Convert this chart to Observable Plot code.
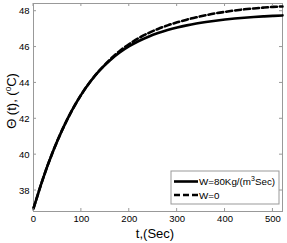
<!DOCTYPE html>
<html><head><meta charset="utf-8">
<script src="https://cdn.jsdelivr.net/npm/d3@7"></script>
<script src="https://cdn.jsdelivr.net/npm/@observablehq/plot@0.6"></script>
<style>body{margin:0;background:#fff}</style>
</head><body><div id="chart"></div>
<script>
const time = [0,20,40,60,80,100,120,140,160,180,200,220,240,260,280,300,320,340,360,380,400,420,440,460,480,500,520];
const thetaW80 = [37.0,38.68,40.13,41.38,42.45,43.36,44.12,44.75,45.27,45.7,46.05,46.34,46.58,46.78,46.95,47.09,47.21,47.31,47.395,47.47,47.535,47.59,47.635,47.675,47.71,47.74,47.765];
const thetaW0 = [37.0,38.68,40.13,41.38,42.45,43.36,44.12,44.76,45.31,45.78,46.17,46.5,46.78,47.01,47.21,47.38,47.53,47.66,47.775,47.88,47.965,48.04,48.105,48.155,48.2,48.24,48.265];
const xTicks = [0,100,200,300,400,500];
const yTicks = [38,40,42,44,46,48];

const rows = time.map((t,i)=>({t, v: thetaW80[i], s:"W80"}));
const rows0 = time.map((t,i)=>({t, v: thetaW0[i], s:"W0"}));

const font = "Liberation Sans, Arial, sans-serif";
const plot = Plot.plot({
  width: 287, height: 243,
  marginLeft: 33, marginRight: 5, marginTop: 3, marginBottom: 32,
  style: {fontFamily: font, fontSize: "9.5px", background: "#fff", color: "#000"},
  x: {domain: [0, 520]},
  y: {domain: [36.83, 48.43]},
  marks: [
    Plot.frame({stroke: "#999", strokeWidth: 1}),
    Plot.axisX(xTicks, {tickSize: 0, tickPadding: 4, label: null, fill: "#000"}),
    Plot.axisY(yTicks, {tickSize: 0, tickPadding: 4, label: null, fill: "#000"}),
    Plot.line(rows0, {x: "t", y: "v", stroke: "#000", strokeWidth: 2.6, strokeDasharray: "6,3", curve: "natural"}),
    Plot.line(rows, {x: "t", y: "v", stroke: "#000", strokeWidth: 2.6, curve: "natural"})
  ]
});
document.getElementById("chart").appendChild(plot);

const svg = d3.select(plot);
const sx = plot.scale("x"), sy = plot.scale("y");
const L = 33, R = 282, T = 3, B = 211;
const tg = svg.append("g").attr("stroke", "#999").attr("stroke-width", 1);
xTicks.forEach(v => {
  const x = sx.apply(v);
  tg.append("line").attr("x1", x).attr("x2", x).attr("y1", B).attr("y2", B - 3);
  tg.append("line").attr("x1", x).attr("x2", x).attr("y1", T).attr("y2", T + 3);
});
yTicks.forEach(v => {
  const y = sy.apply(v);
  tg.append("line").attr("x1", L).attr("x2", L + 3).attr("y1", y).attr("y2", y);
  tg.append("line").attr("x1", R).attr("x2", R - 3).attr("y1", y).attr("y2", y);
});

// axis labels
svg.append("text").attr("x", 155).attr("y", 238).attr("text-anchor", "middle")
  .attr("font-family", font).attr("font-size", 13).text("t,(Sec)");
const yl = svg.append("text").attr("transform", "translate(16,101) rotate(-90)").attr("text-anchor", "middle")
  .attr("font-family", font).attr("font-size", 13);
yl.append("tspan").text("\u0398 (t), (");
yl.append("tspan").attr("font-size", 8).attr("dy", -5).text("0");
yl.append("tspan").attr("dy", 5).text("C)");

// legend
const lg = svg.append("g").attr("font-family", font).attr("font-size", 9.8).attr("text-anchor", "start");
lg.append("rect").attr("x", 171).attr("y", 171).attr("width", 108).attr("height", 33)
  .attr("fill", "#fff").attr("stroke", "#999").attr("stroke-width", 1);
lg.append("line").attr("x1", 174).attr("x2", 198).attr("y1", 181.5).attr("y2", 181.5)
  .attr("stroke", "#000").attr("stroke-width", 2.6);
lg.append("line").attr("x1", 174).attr("x2", 198).attr("y1", 195).attr("y2", 195)
  .attr("stroke", "#000").attr("stroke-width", 2.6).attr("stroke-dasharray", "6,3");
const t1 = lg.append("text").attr("x", 199).attr("y", 185).attr("text-anchor", "start");
t1.append("tspan").text("W=80Kg/(m");
t1.append("tspan").attr("font-size", 7).attr("dy", -4).text("3");
t1.append("tspan").attr("dy", 4).text("Sec)");
lg.append("text").attr("x", 199).attr("y", 198.5).attr("text-anchor", "start").text("W=0");
</script></body></html>
